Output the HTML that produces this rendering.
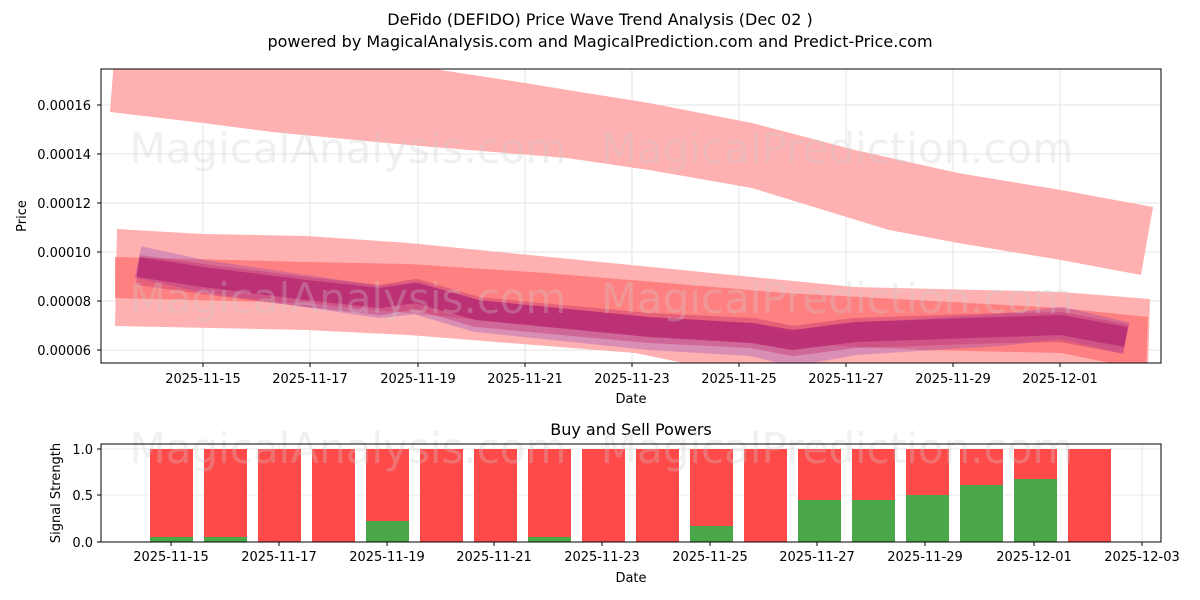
<!DOCTYPE html>
<html><head><meta charset="utf-8"><style>
body{margin:0;background:#fff;}
svg{display:block;font-family:"DejaVu Sans","Liberation Sans",sans-serif;}
</style></head><body>
<svg width="1200" height="600" viewBox="0 0 1200 600" xmlns="http://www.w3.org/2000/svg">
<text x="600" y="25" text-anchor="middle" font-size="16">DeFido (DEFIDO) Price Wave Trend Analysis (Dec 02 )</text>
<text x="600" y="47" text-anchor="middle" font-size="16">powered by MagicalAnalysis.com and MagicalPrediction.com and Predict-Price.com</text>
<defs><clipPath id="c1"><rect x="101" y="69" width="1060" height="294"/></clipPath></defs>
<g stroke="#ddd" stroke-width="0.8">
<line x1="203" y1="69" x2="203" y2="363"/><line x1="310" y1="69" x2="310" y2="363"/><line x1="418" y1="69" x2="418" y2="363"/><line x1="525" y1="69" x2="525" y2="363"/><line x1="632" y1="69" x2="632" y2="363"/><line x1="739" y1="69" x2="739" y2="363"/><line x1="846" y1="69" x2="846" y2="363"/><line x1="953" y1="69" x2="953" y2="363"/><line x1="1060" y1="69" x2="1060" y2="363"/>
<line x1="101" y1="105" x2="1161" y2="105"/><line x1="101" y1="154" x2="1161" y2="154"/><line x1="101" y1="203" x2="1161" y2="203"/><line x1="101" y1="252" x2="1161" y2="252"/><line x1="101" y1="301" x2="1161" y2="301"/><line x1="101" y1="350" x2="1161" y2="350"/>
</g>
<g clip-path="url(#c1)">
<polygon fill="#ffb0b0" points="114,60 375,60 525,83 580,92 649,103 752,123 855,150 958,173 1061,190 1153,207 1141,275 1061,260 958,243 889,230 752,188 649,170 567,158 409,145 272,132 203,123 110,112"/>
<polygon fill="#ffb0b0" points="117,229 203,234 306,236 409,243 580,260 752,277 855,287 1061,292 1150,299 1148,370 718,370 635,353 409,335 306,330 115,326"/>
<polygon fill="#ff7070" fill-opacity="0.75" points="115,257 306,262 409,264 546,273 786,293 1061,308 1148,317 1146,370 1061,353 924,350 718,340 512,323 306,303 115,298"/>
<g fill="none" stroke-linejoin="round" stroke-linecap="butt">
<polyline stroke="#8040c0" stroke-opacity="0.3" stroke-width="32" points="138,262 203,276 306,291 380,302 416,298 477,316 649,334 752,340 793,350 855,339 1000,330 1061,323 1126,338"/>
<polyline stroke="#c03070" stroke-opacity="0.4" stroke-width="30" points="138,270 203,279 306,292 380,300 416,294 477,312 649,328 752,333 793,341 855,333 1000,328 1061,327 1126,339"/>
<polyline stroke="#b82a72" stroke-opacity="0.85" stroke-width="20" points="138,267 203,277 306,290 380,298 416,293 477,310 649,327 752,333 793,340 855,332 1000,327 1061,325 1126,337"/>
</g>
</g>
<text x="348" y="163" font-size="42" fill="#ccc" fill-opacity="0.3" text-anchor="middle">MagicalAnalysis.com</text>
<text x="837" y="163" font-size="42" fill="#ccc" fill-opacity="0.3" text-anchor="middle">MagicalPrediction.com</text>
<text x="348" y="313" font-size="42" fill="#ccc" fill-opacity="0.3" text-anchor="middle">MagicalAnalysis.com</text>
<text x="837" y="313" font-size="42" fill="#ccc" fill-opacity="0.3" text-anchor="middle">MagicalPrediction.com</text>
<rect x="101" y="69" width="1060" height="294" fill="none" stroke="#000" stroke-width="1"/>
<g font-size="13" text-anchor="end">
<text x="91" y="110">0.00016</text><text x="91" y="159">0.00014</text><text x="91" y="208">0.00012</text><text x="91" y="257">0.00010</text><text x="91" y="306">0.00008</text><text x="91" y="355">0.00006</text>
</g>
<g stroke="#000"><line x1="97" y1="105" x2="101" y2="105"/><line x1="97" y1="154" x2="101" y2="154"/><line x1="97" y1="203" x2="101" y2="203"/><line x1="97" y1="252" x2="101" y2="252"/><line x1="97" y1="301" x2="101" y2="301"/><line x1="97" y1="350" x2="101" y2="350"/>
<line x1="203" y1="363" x2="203" y2="367"/><line x1="310" y1="363" x2="310" y2="367"/><line x1="418" y1="363" x2="418" y2="367"/><line x1="525" y1="363" x2="525" y2="367"/><line x1="632" y1="363" x2="632" y2="367"/><line x1="739" y1="363" x2="739" y2="367"/><line x1="846" y1="363" x2="846" y2="367"/><line x1="953" y1="363" x2="953" y2="367"/><line x1="1060" y1="363" x2="1060" y2="367"/></g>
<g font-size="13" text-anchor="middle">
<text x="203" y="383">2025-11-15</text><text x="310" y="383">2025-11-17</text><text x="418" y="383">2025-11-19</text><text x="525" y="383">2025-11-21</text><text x="632" y="383">2025-11-23</text><text x="739" y="383">2025-11-25</text><text x="846" y="383">2025-11-27</text><text x="953" y="383">2025-11-29</text><text x="1060" y="383">2025-12-01</text>
</g>
<text x="631" y="403" font-size="13" text-anchor="middle">Date</text>
<text x="26" y="216" font-size="13" text-anchor="middle" transform="rotate(-90 26 216)">Price</text>

<text x="631" y="435" font-size="16" text-anchor="middle">Buy and Sell Powers</text>
<g stroke="#e4e4e4" stroke-width="0.8">
<line x1="101" y1="449" x2="1161" y2="449"/><line x1="101" y1="495" x2="1161" y2="495"/>
<line x1="171" y1="444" x2="171" y2="542"/><line x1="279" y1="444" x2="279" y2="542"/><line x1="387" y1="444" x2="387" y2="542"/><line x1="494" y1="444" x2="494" y2="542"/><line x1="602" y1="444" x2="602" y2="542"/><line x1="710" y1="444" x2="710" y2="542"/><line x1="817" y1="444" x2="817" y2="542"/><line x1="925" y1="444" x2="925" y2="542"/><line x1="1034" y1="444" x2="1034" y2="542"/><line x1="1142" y1="444" x2="1142" y2="542"/>
</g>
<g fill="#ff4a4a">
<rect x="150" y="449" width="43" height="93"/><rect x="204" y="449" width="43" height="93"/><rect x="258" y="449" width="43" height="93"/><rect x="312" y="449" width="43" height="93"/><rect x="366" y="449" width="43" height="93"/><rect x="420" y="449" width="43" height="93"/><rect x="474" y="449" width="43" height="93"/><rect x="528" y="449" width="43" height="93"/><rect x="582" y="449" width="43" height="93"/><rect x="636" y="449" width="43" height="93"/><rect x="690" y="449" width="43" height="93"/><rect x="744" y="449" width="43" height="93"/><rect x="798" y="449" width="43" height="93"/><rect x="852" y="449" width="43" height="93"/><rect x="906" y="449" width="43" height="93"/><rect x="960" y="449" width="43" height="93"/><rect x="1014" y="449" width="43" height="93"/><rect x="1068" y="449" width="43" height="93"/>
</g>
<g fill="#4aa84a">
<rect x="150" y="537" width="43" height="5"/><rect x="204" y="537" width="43" height="5"/><rect x="366" y="521" width="43" height="21"/><rect x="528" y="537" width="43" height="5"/><rect x="690" y="526" width="43" height="16"/><rect x="798" y="500" width="43" height="42"/><rect x="852" y="500" width="43" height="42"/><rect x="906" y="495" width="43" height="47"/><rect x="960" y="485" width="43" height="57"/><rect x="1014" y="479" width="43" height="63"/>
</g>
<text x="348" y="463" font-size="42" fill="#ccc" fill-opacity="0.3" text-anchor="middle">MagicalAnalysis.com</text>
<text x="837" y="463" font-size="42" fill="#ccc" fill-opacity="0.3" text-anchor="middle">MagicalPrediction.com</text>
<rect x="101" y="444" width="1060" height="98" fill="none" stroke="#000" stroke-width="1"/>
<g stroke="#000"><line x1="97" y1="449" x2="101" y2="449"/><line x1="97" y1="495" x2="101" y2="495"/><line x1="97" y1="542" x2="101" y2="542"/>
<line x1="171" y1="542" x2="171" y2="546"/><line x1="279" y1="542" x2="279" y2="546"/><line x1="387" y1="542" x2="387" y2="546"/><line x1="494" y1="542" x2="494" y2="546"/><line x1="602" y1="542" x2="602" y2="546"/><line x1="710" y1="542" x2="710" y2="546"/><line x1="817" y1="542" x2="817" y2="546"/><line x1="925" y1="542" x2="925" y2="546"/><line x1="1034" y1="542" x2="1034" y2="546"/><line x1="1142" y1="542" x2="1142" y2="546"/></g>
<g font-size="13" text-anchor="end"><text x="93" y="454">1.0</text><text x="93" y="500">0.5</text><text x="93" y="547">0.0</text></g>
<g font-size="13" text-anchor="middle">
<text x="171" y="561">2025-11-15</text><text x="279" y="561">2025-11-17</text><text x="387" y="561">2025-11-19</text><text x="494" y="561">2025-11-21</text><text x="602" y="561">2025-11-23</text><text x="710" y="561">2025-11-25</text><text x="817" y="561">2025-11-27</text><text x="925" y="561">2025-11-29</text><text x="1034" y="561">2025-12-01</text><text x="1142" y="561">2025-12-03</text>
</g>
<text x="631" y="582" font-size="13" text-anchor="middle">Date</text>
<text x="60" y="493" font-size="13" text-anchor="middle" transform="rotate(-90 60 493)">Signal Strength</text>
</svg>
</body></html>
